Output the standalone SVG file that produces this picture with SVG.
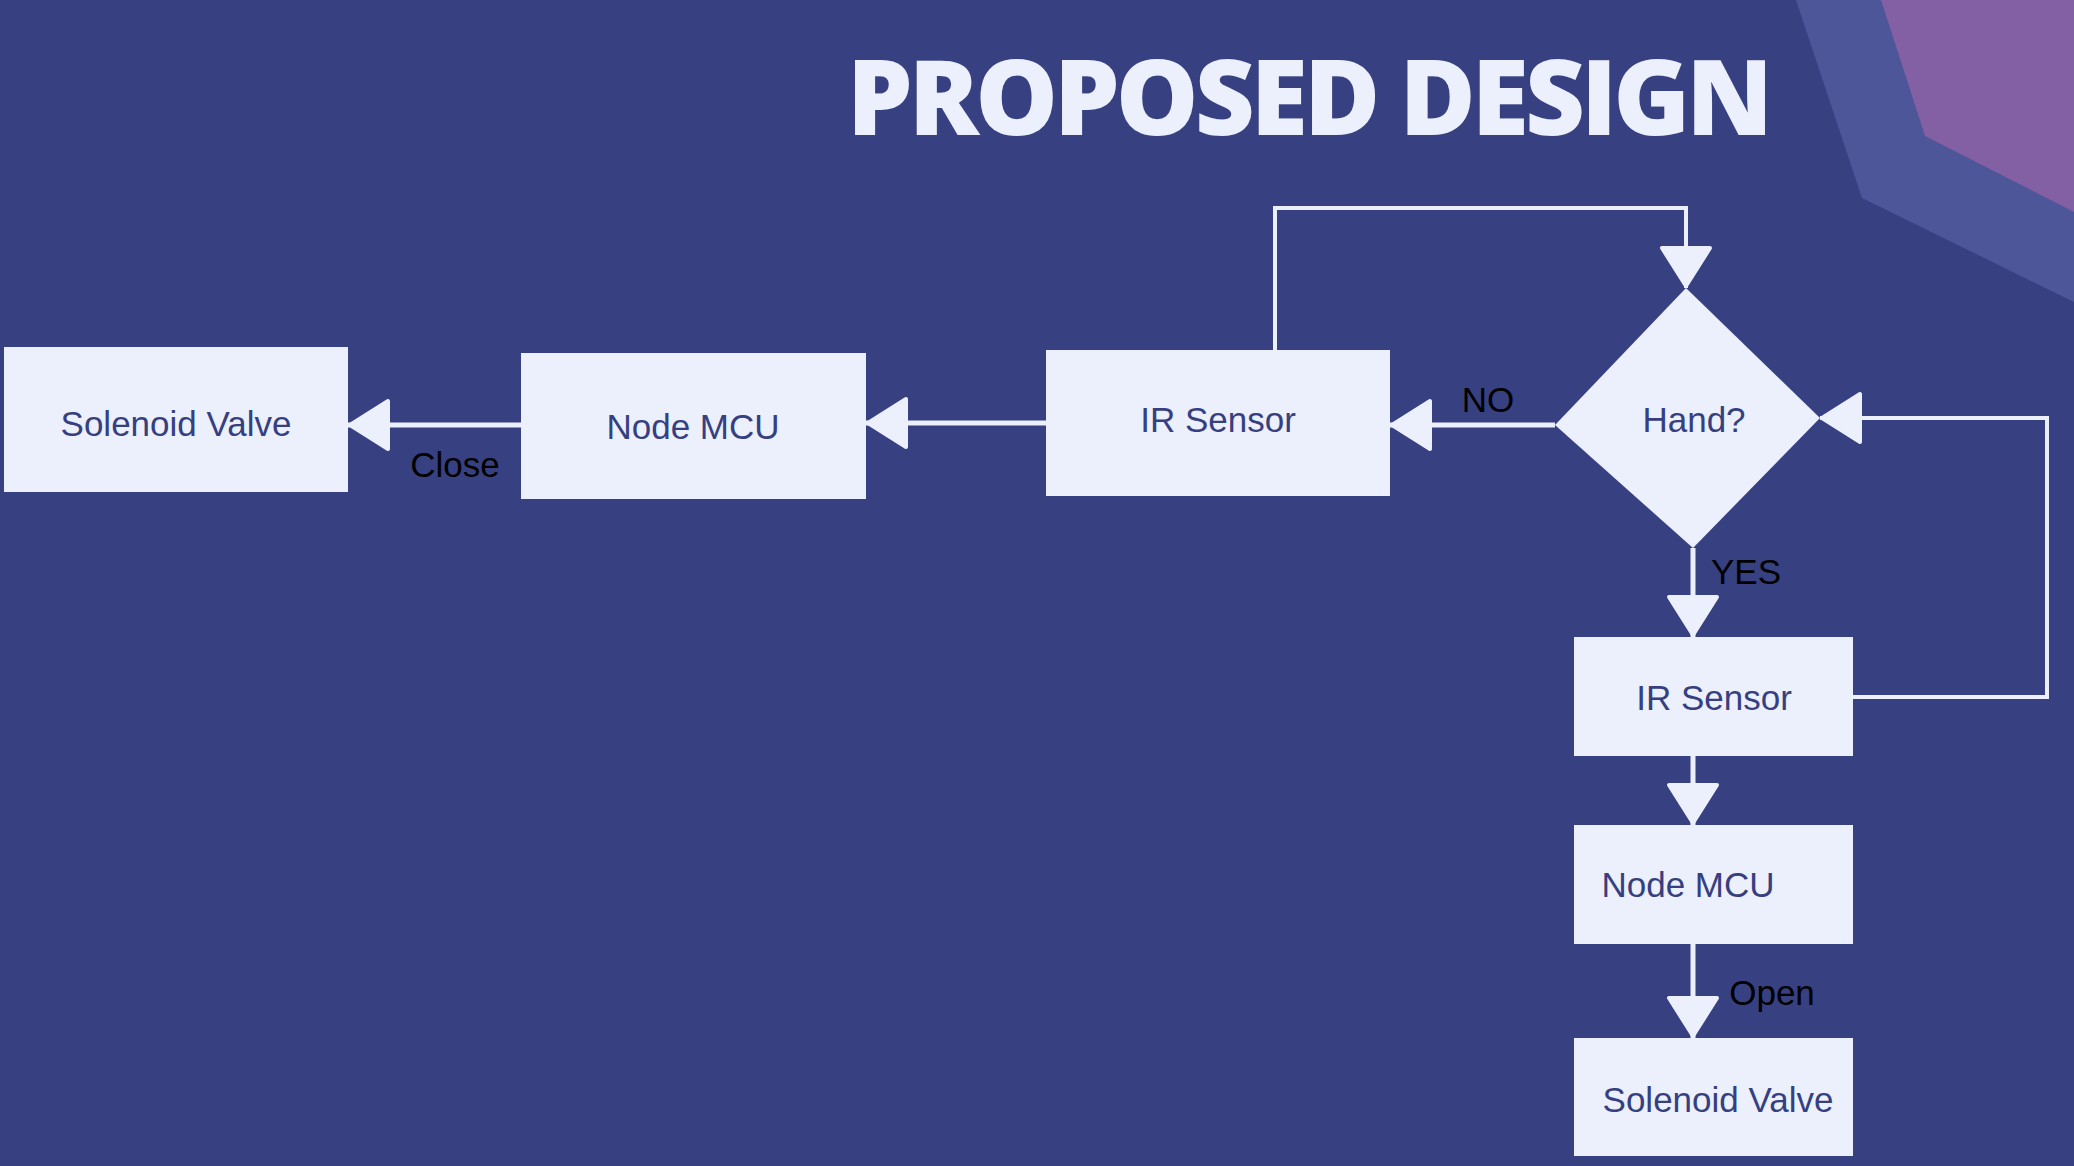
<svg xmlns="http://www.w3.org/2000/svg" width="2074" height="1166" viewBox="0 0 2074 1166">
<style>
.box{fill:#ecf0fd}
.lbl{font-family:"Liberation Sans",Arial,sans-serif;font-size:35px;fill:#363f80;text-anchor:middle;dominant-baseline:central}
.elbl{font-family:"Liberation Sans",Arial,sans-serif;font-size:35px;fill:#000;text-anchor:middle;dominant-baseline:central}
.conn{fill:none;stroke:#ecf0fd;stroke-width:5}
.thin{stroke-width:4}
</style>
<defs>
<marker id="ah" viewBox="-4 -30 48 60" refX="40" refY="0" markerWidth="48" markerHeight="60" markerUnits="userSpaceOnUse" orient="auto">
<path d="M0,-24 L38,0 L0,24 Z" fill="#ecf0fd" stroke="#ecf0fd" stroke-width="4" stroke-linejoin="round"/>
</marker>
</defs>
<rect width="2074" height="1166" fill="#374081"/>
<g id="decor">
<polygon points="1796,0 2074,0 2074,302 1862,198" fill="#4c5699"/>
<polygon points="1881,0 2074,0 2074,212 1925,136" fill="#835fa4"/>
</g>
<text x="1310" y="135" text-anchor="middle" font-family="'Open Sans','DejaVu Sans',sans-serif" font-weight="800" font-size="104" fill="#ecf0fd" textLength="926">PROPOSED DESIGN</text>
<g id="connectors">
<path class="conn" d="M1555,425 L1390,425" marker-end="url(#ah)"/>
<path class="conn" d="M1046,423 L866,423" marker-end="url(#ah)"/>
<path class="conn" d="M521,425 L348,425" marker-end="url(#ah)"/>
<path class="conn thin" d="M1275,350 L1275,208 L1686,208 L1686,288" marker-end="url(#ah)"/>
<path class="conn thin" d="M1853,697 L2047,697 L2047,418 L1820,418" marker-end="url(#ah)"/>
<path class="conn" d="M1693,548 L1693,637" marker-end="url(#ah)"/>
<path class="conn" d="M1693,756 L1693,825" marker-end="url(#ah)"/>
<path class="conn" d="M1693,944 L1693,1038" marker-end="url(#ah)"/>
<text class="elbl" x="1488" y="399">NO</text>
<text class="elbl" x="455" y="464">Close</text>
<text class="elbl" x="1746" y="571">YES</text>
<text class="elbl" x="1772" y="992">Open</text>
</g>
<g id="solenoid1">
<rect class="box" x="4" y="347" width="344" height="145"/>
<text class="lbl" x="176" y="423">Solenoid Valve</text>
</g>
<g id="nodemcu1">
<rect class="box" x="521" y="353" width="345" height="146"/>
<text class="lbl" x="693" y="426">Node MCU</text>
</g>
<g id="irsensor1">
<rect class="box" x="1046" y="350" width="344" height="146"/>
<text class="lbl" x="1218" y="419">IR Sensor</text>
</g>
<g id="hand">
<polygon class="box" points="1686,288 1820,418 1693,548 1555,425"/>
<text class="lbl" x="1694" y="419">Hand?</text>
</g>
<g id="irsensor2">
<rect class="box" x="1574" y="637" width="279" height="119"/>
<text class="lbl" x="1714" y="697">IR Sensor</text>
</g>
<g id="nodemcu2">
<rect class="box" x="1574" y="825" width="279" height="119"/>
<text class="lbl" x="1688" y="884">Node MCU</text>
</g>
<g id="solenoid2">
<rect class="box" x="1574" y="1038" width="279" height="118"/>
<text class="lbl" x="1718" y="1099">Solenoid Valve</text>
</g>
</svg>
